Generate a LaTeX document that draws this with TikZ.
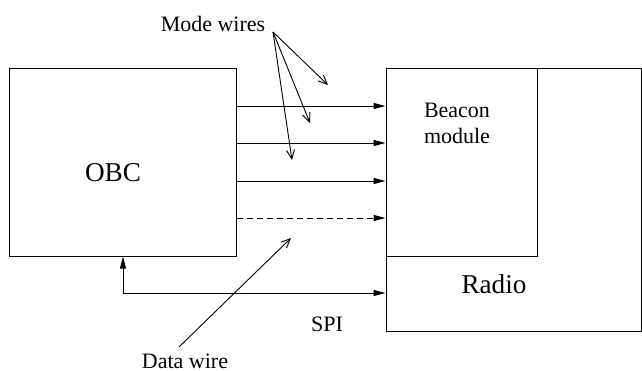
\documentclass[tikz,border=0pt]{standalone}
\usepackage{fontspec}
\setmainfont{Liberation Serif}
\usepackage{tikz}
\usetikzlibrary{arrows.meta,fit}

\begin{document}
\begin{tikzpicture}[x=0.5pt,y=-0.5pt,
    box/.style={draw,line width=0.5pt,inner sep=0pt},
    wire/.style={line width=0.5pt,-{Triangle[length=6pt,width=3pt]}},
    pointer/.style={line width=0.45pt,-{Straight Barb[length=4.5pt,width=4pt]}},
    big/.style={font=\fontsize{13.6}{16}\selectfont},
    small/.style={font=\fontsize{11}{13}\selectfont}]
  \useasboundingbox (0,0) rectangle (642,370);
  % blocks
  \coordinate (obc nw) at (9,68);   \coordinate (obc se) at (236,256);
  \coordinate (bcn nw) at (386,68); \coordinate (bcn se) at (537,256);
  \coordinate (rad se) at (641,331);
  \node[box,fit=(bcn nw)(rad se)] (radio) {};
  \node[box,fit=(bcn nw)(bcn se)] (beacon) {};
  \node[box,fit=(obc nw)(obc se)] (obc) {};
  \node[big,anchor=base] (obc label) at (113,181) {OBC};
  \node[big,anchor=base] (radio label) at (494,293) {Radio};
  \node[small,align=center,anchor=base] (beacon label) at (457,143) {Beacon\\module};
  % wires
  \foreach \y in {106,143,181}
    \draw[wire] (obc.east |- 0,\y) -- (beacon.west |- 0,\y);
  \draw[wire,dash pattern=on 3pt off 2pt] (obc.east |- 0,218) -- (beacon.west |- 0,218);
  \coordinate (spi bend) at (123,293);
  \draw[wire,{Triangle[length=6pt,width=3pt]}-{Triangle[length=6pt,width=3pt]}]
    (obc.south -| spi bend) -- (spi bend) -- (radio.west |- spi bend);
  \node[small,anchor=base] (spi label) at (327,331) {SPI};
  % annotations
  \node[small,anchor=base] (mode label) at (213,31) {Mode wires};
  \coordinate (mode src) at (273,32);
  \coordinate (mw1) at (328,85);
  \coordinate (mw2) at (310,123);
  \coordinate (mw3) at (292,160);
  \foreach \t in {mw1,mw2,mw3}
    \draw[pointer] (mode src) -- (\t);
  \node[small,anchor=base] (data label) at (185,368) {Data wire};
  \coordinate (data src) at (179,347);
  \coordinate (data tip) at (291,238);
  \draw[pointer] (data src) -- (data tip);
\end{tikzpicture}
\end{document}
